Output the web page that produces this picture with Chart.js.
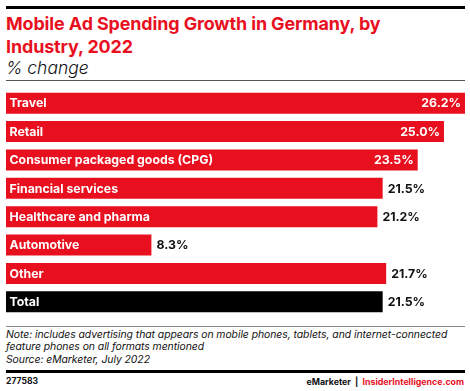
<!DOCTYPE html>
<html><head><meta charset="utf-8">
<script src="https://cdn.jsdelivr.net/npm/chart.js@4"></script>
<style>
body{margin:0;width:470px;height:391px;background:#fff;position:relative;font-family:Inter,"Noto Sans",sans-serif;overflow:hidden}
.abs{position:absolute;white-space:nowrap}
#topline{left:6px;top:6px;width:459px;height:3px;background:#000}
#title{left:6px;top:12px;font-size:17.9px;font-weight:700;color:#e8101f;line-height:23px;letter-spacing:-0.1px}
#sub{left:6px;top:56.5px;font-size:17.5px;font-style:italic;font-weight:300;color:#111}
#gl1{left:6px;top:80px;width:459px;height:1px;background:#555}
#wrap{left:6px;top:89px;width:459px;height:227px}
#gl2{left:6px;top:326px;width:459px;height:1px;background:#888}
#note{left:6px;top:328.5px;font-size:10.4px;font-style:italic;line-height:12.7px;color:#111;letter-spacing:-0.05px}
#bl{left:6px;top:370px;width:459px;height:2.5px;background:#000}
#id{left:6px;top:375.5px;font-size:8.6px;font-weight:700;color:#111}
#brand{right:6px;top:375.5px;font-size:8.8px;font-weight:700;color:#111}
</style></head><body>
<div id="topline" class="abs"></div>
<div id="title" class="abs">Mobile Ad Spending Growth in Germany, by<br>Industry, 2022</div>
<div id="sub" class="abs">% change</div>
<div id="gl1" class="abs"></div>
<div id="wrap" class="abs"><canvas id="c"></canvas></div>
<div id="gl2" class="abs"></div>
<div id="note" class="abs">Note: includes advertising that appears on mobile phones, tablets, and internet-connected<br>feature phones on all formats mentioned<br>Source: eMarketer, July 2022</div>
<div id="bl" class="abs"></div>
<div id="id" class="abs">277583</div>
<div id="brand" class="abs">eMarketer &nbsp;|&nbsp; <span style="color:#e8101f">InsiderIntelligence.com</span></div>
<script>
const categories = ["Travel","Retail","Consumer packaged goods (CPG)","Financial services","Healthcare and pharma","Automotive","Other","Total"];
const values = [26.2,25.0,23.5,21.5,21.2,8.3,21.7,21.5];
const barColors = ["#e8101f","#e8101f","#e8101f","#e8101f","#e8101f","#e8101f","#e8101f","#000000"];

const labelPlugin = {
  id:'labels',
  afterDatasetsDraw(chart){
    const ctx = chart.ctx;
    const meta = chart.getDatasetMeta(0);
    const max = Math.max(...values);
    ctx.save();
    ctx.font = "700 12.3px Inter, 'Noto Sans', sans-serif";
    ctx.textBaseline = 'middle';
    meta.data.forEach((bar,i)=>{
      const y = bar.y + 0.5;
      ctx.fillStyle = '#fff';
      ctx.textAlign = 'left';
      ctx.fillText(categories[i], bar.base + 3.5, y);
      const txt = values[i].toFixed(1) + '%';
      if (values[i] / max > 0.85) {
        ctx.textAlign = 'right';
        ctx.fillStyle = '#fff';
        ctx.fillText(txt, bar.x - 4, y);
      } else {
        ctx.textAlign = 'left';
        ctx.fillStyle = '#111';
        ctx.fillText(txt, bar.x + 5, y);
      }
    });
    ctx.restore();
  }
};

new Chart(document.getElementById('c'), {
  type:'bar',
  data:{labels:categories, datasets:[{data:values, backgroundColor:barColors, borderWidth:0, barPercentage:0.74, categoryPercentage:1}]},
  options:{
    indexAxis:'y', responsive:true, maintainAspectRatio:false, animation:false,
    layout:{padding:0},
    plugins:{legend:{display:false}, tooltip:{enabled:false}},
    scales:{
      x:{display:false, min:0, max:Math.max(...values)},
      y:{display:false}
    }
  },
  plugins:[labelPlugin]
});
</script>
</body></html>
